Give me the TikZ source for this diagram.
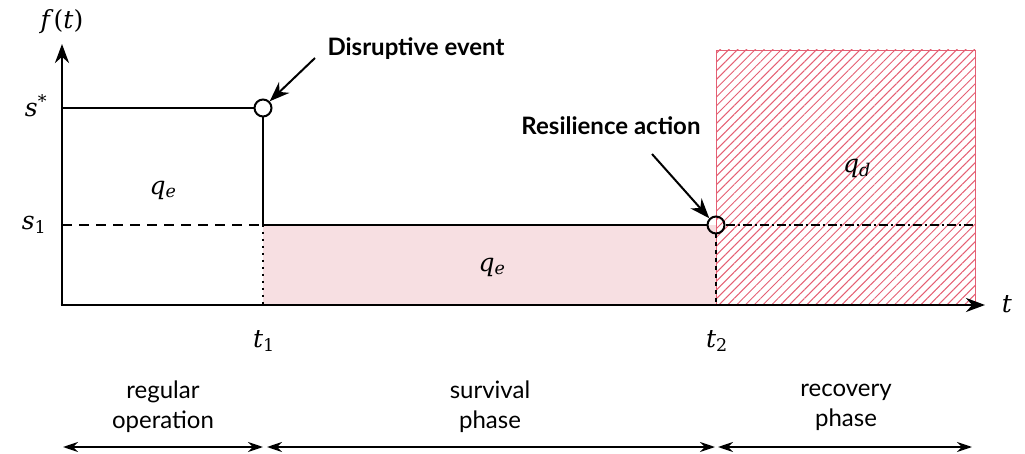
\documentclass[tikz,border=0pt]{standalone}
\usepackage{fontspec}
\setsansfont{Lato}
\newfontfamily\symfont{DejaVu Serif}
\usetikzlibrary{arrows.meta,patterns.meta}
\definecolor{survfill}{RGB}{247,223,226}
\definecolor{hatchred}{RGB}{228,95,115}
\newcommand{\sym}[1]{\textit{#1}}
\newcommand{\sub}[2]{\textit{#1}\textsubscript{#2}}
\begin{document}
\begin{tikzpicture}[x=1pt,y=-1pt,
  axis/.style={line width=2.8pt,-{Stealth[length=19pt,width=14pt]}},
  curve/.style={line width=2pt},
  ring/.style={circle,draw,line width=2pt,minimum size=17pt,inner sep=0pt},
  note/.style={font=\sffamily\bfseries\fontsize{24}{28}\selectfont},
  phase/.style={font=\sffamily\fontsize{24}{30}\selectfont,align=center},
  mathlbl/.style={font=\symfont\fontsize{25}{28}\selectfont},
  pointer/.style={line width=2pt,-{Stealth[length=20pt,width=15pt]}},
  span/.style={line width=2pt,{Stealth[length=15pt,width=10pt]}-{Stealth[length=15pt,width=10pt]}}]
\useasboundingbox (0,0) rectangle (1025,454);

% reference points
\coordinate (O) at (62,305);
\coordinate (ytip) at (62,44);
\coordinate (xtip) at (985,305);
\coordinate (sstar) at (62,108);
\coordinate (s1) at (62,225);
\coordinate (t1s1) at (263,225);
\coordinate (t1b) at (263,305);
\coordinate (t2b) at (716,305);
\coordinate (qend) at (975,225);

% survival area and recovery deficit
\fill[survfill] (263,225) rectangle (716,305);
\fill[pattern={Lines[angle=45,distance=6.2pt,line width=1pt]},pattern color=hatchred]
  (716,50) rectangle (975,305);
\draw[hatchred,line width=0.7pt] (716,305) -- (716,50) -- (975,50) -- (975,305);

% event markers
\node[ring] (dis) at (263,108) {};
\node[ring] (res) at (716,225) {};

% performance curve
\draw[curve] (sstar) -- (dis.west);
\draw[curve] (dis.south) -- (t1s1);
\draw[curve] (t1s1) -- (res.west);
\draw[line width=1.5pt,dash pattern=on 10pt off 7pt] (s1) -- (t1s1);
\draw[line width=1.5pt,dash pattern=on 2pt off 5pt] (t1s1) -- (t1b);
\draw[line width=1.3pt,dash pattern=on 4pt off 4pt] (res.south) -- (t2b);
\draw[line width=1.4pt,dash pattern=on 9pt off 3pt on 2pt off 3pt] (res.east) -- (qend);

% axes
\draw[axis] (O) -- (ytip);
\draw[axis] ([xshift=-1.4pt]O) -- (xtip);

% axis labels
\node[mathlbl] (fl) at (62,22) {\sym{f}(\sym{t})};
\node[mathlbl] (tl) at (1007,304) {\sym{t}};
\node[mathlbl] (ssl) at (36,106) {\sym{s}\textsuperscript{*}};
\node[mathlbl] (s1l) at (34,225) {\sub{s}{1}};
\node[mathlbl] (t1l) at (264,341) {\sub{t}{1}};
\node[mathlbl] (t2l) at (717,341) {\sub{t}{2}};
\node[mathlbl] (qe1) at (163,190) {\sub{q}{\textit{e}}};
\node[mathlbl] (qe2) at (492,267) {\sub{q}{\textit{e}}};
\node[mathlbl] (qd) at (857,168) {\sub{q}{\textit{d}}};

% annotations
\node[note,anchor=west] (dtxt) at (324,49) {Disruptive event};
\node[note] (rtxt) at (611,126) {Resilience action};
\coordinate (dfrom) at (315,58);
\coordinate (rfrom) at (652,154);
\draw[pointer] (dfrom) -- (dis.north east);
\draw[pointer] (rfrom) -- (res.north west);

% phases
\node[phase] (p1) at (163,407) {regular\\operation};
\node[phase] (p2) at (490,407) {survival\\phase};
\node[phase] (p3) at (846,407) {recovery\\phase};
\coordinate (a0) at (63,447);
\coordinate (a1) at (263,447);
\coordinate (a2) at (267,447);
\coordinate (a3) at (715,447);
\coordinate (a4) at (718,447);
\coordinate (a5) at (972,447);
\draw[span] (a0) -- (a1);
\draw[span] (a2) -- (a3);
\draw[span] (a4) -- (a5);
\end{tikzpicture}
\end{document}
